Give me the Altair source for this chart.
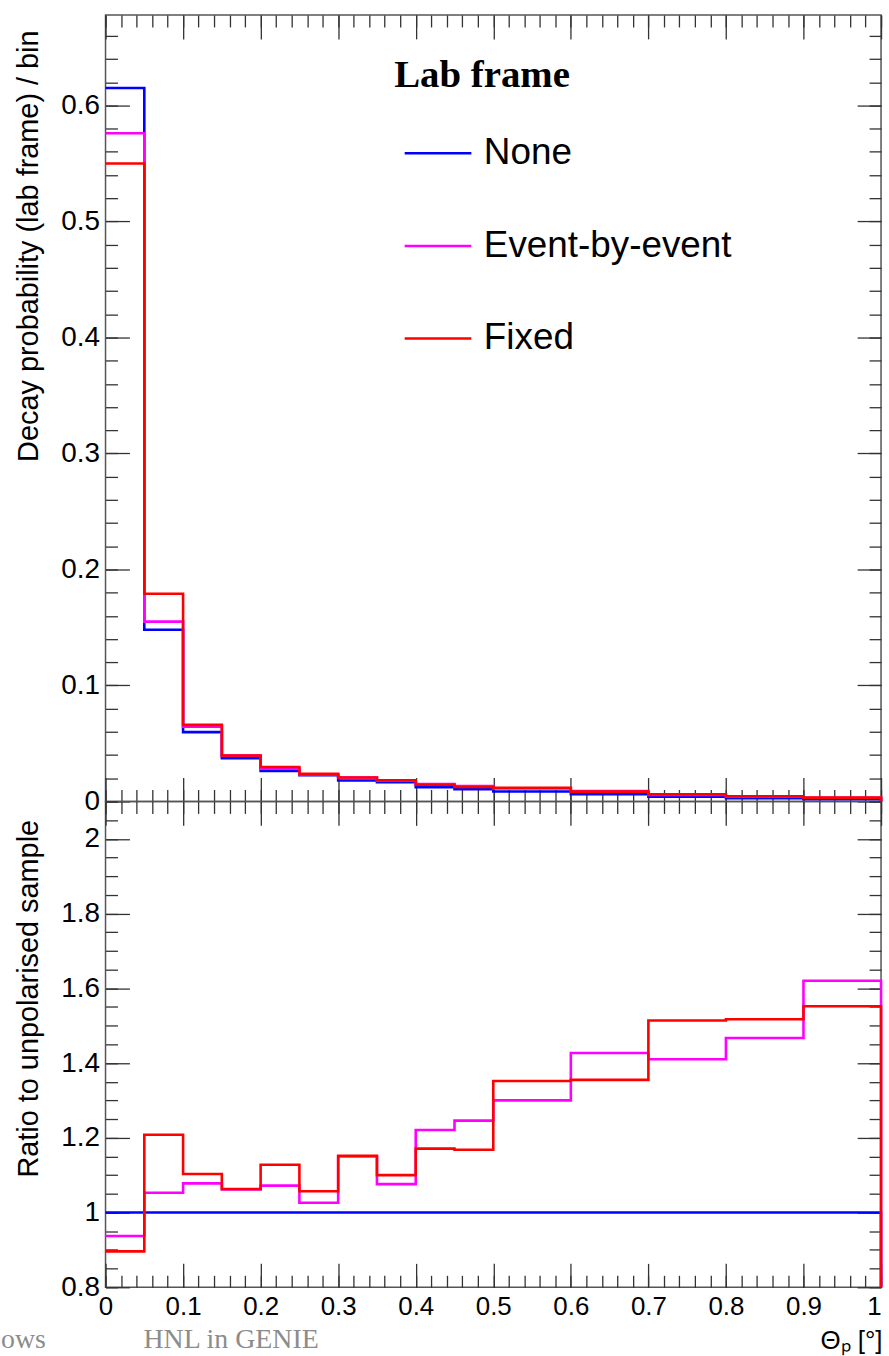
import altair as alt
import pandas as pd

# ---------------- data ----------------
series_names = ["None", "Event-by-event", "Fixed"]
series_colors = ["#0000ff", "#ff00ff", "#ff0000"]

bin_edges = [0.0, 0.05, 0.1, 0.15, 0.2, 0.25, 0.3, 0.35, 0.4, 0.45, 0.5, 0.6, 0.7, 0.8, 0.9, 1.0]

prob_none = [0.615, 0.148, 0.0598, 0.0372, 0.0263, 0.0226, 0.0180, 0.0166, 0.0123, 0.0106,
             0.0086, 0.0063, 0.0040, 0.0028, 0.0020]
prob_ebe = [0.576, 0.155, 0.0645, 0.0395, 0.0282, 0.0232, 0.0207, 0.0179, 0.0150, 0.0132,
            0.0112, 0.0090, 0.0056, 0.0041, 0.0032]
prob_fixed = [0.550, 0.179, 0.0660, 0.0396, 0.0297, 0.0239, 0.0207, 0.0183, 0.0144, 0.0124,
              0.0118, 0.0085, 0.0062, 0.0045, 0.0033]

ratio_none = [1.0, 1.0, 1.0, 1.0, 1.0, 1.0, 1.0, 1.0, 1.0, 1.0, 1.0, 1.0, 1.0, 1.0, 1.0]
ratio_ebe = [0.937, 1.053, 1.078, 1.062, 1.072, 1.026, 1.150, 1.076, 1.221, 1.246,
             1.300, 1.427, 1.410, 1.467, 1.620]
ratio_fixed = [0.896, 1.208, 1.103, 1.063, 1.128, 1.057, 1.152, 1.100, 1.171, 1.168,
               1.352, 1.355, 1.514, 1.517, 1.552]

# axis ticks / labels
x_major = [0, 0.1, 0.2, 0.3, 0.4, 0.5, 0.6, 0.7, 0.8, 0.9, 1]
x_minor = [round(i * 0.02, 2) for i in range(51)]
top_y_major = [0, 0.1, 0.2, 0.3, 0.4, 0.5, 0.6]
top_y_minor = [round(i * 0.02, 2) for i in range(34)]
ratio_y_major = [0.8, 1, 1.2, 1.4, 1.6, 1.8, 2]
ratio_y_minor = [round(0.8 + i * 0.05, 2) for i in range(27)]
top_domain = [0, 0.678]
ratio_domain = [0.8, 2.1]

top_title = "Decay probability (lab frame) / bin"
ratio_title = "Ratio to unpolarised sample"
x_title = "Θₚ [°]"
legend_title = "Lab frame"
footer_text = "ows" + "\u00a0" * 14 + "HNL in GENIE"

# ---------------- layout constants ----------------
W = 779
H_TOP = 790
H_BOT = 488
FONT = "Liberation Sans"
TICK_COLOR = "#333333"
MAJ = 24
MIN = 12


def step_frame(values_list, floor):
    rows = []
    for name, values in zip(series_names, values_list):
        for i, v in enumerate(values):
            rows.append({"series": name, "x": bin_edges[i], "y": v, "idx": i})
        rows.append({"series": name, "x": bin_edges[-1], "y": values[-1], "idx": len(values)})
        rows.append({"series": name, "x": bin_edges[-1], "y": floor, "idx": len(values) + 1})
    return pd.DataFrame(rows)


def tick_axis(orient, offset, values, size):
    return alt.Axis(orient=orient, offset=offset, values=values, tickSize=size,
                    tickColor=TICK_COLOR, tickWidth=1.3, labels=False, domain=False,
                    grid=False, title=None)


def panel(df, domain, y_major, y_minor, y_title, title_y, h, bottom, legend):
    xs = alt.Scale(domain=[0, 1], nice=False, zero=False)
    ys = alt.Scale(domain=domain, nice=False, zero=False)
    base = alt.Chart(df)

    y_label_axis = alt.Axis(orient="left", values=y_major, format="~g", labelFont=FONT,
                            labelFontSize=28, labelColor="black", labelPadding=6,
                            labelFlush=False, labelOverlap=False, ticks=False, tickSize=0,
                            domain=False, grid=False, title=y_title, titleFont=FONT,
                            titleFontSize=29, titleFontWeight="normal", titleColor="black",
                            titleX=-68, titleY=title_y, titleAlign="right",
                            titleAngle=-90, titleBaseline="alphabetic")
    if bottom:
        x_label_axis = alt.Axis(orient="bottom", values=x_major, format="~g", labelFont=FONT,
                                labelFontSize=26, labelColor="black", labelPadding=6,
                                labelFlush=False, labelOverlap=False, ticks=False, tickSize=0,
                                labelAlign={"condition": {"test": "datum.value >= 1",
                                                          "value": "right"},
                                            "value": "center"},
                                domain=False, grid=False, title=x_title, titleFont=FONT,
                                titleFontSize=26, titleFontWeight="normal", titleColor="black",
                                titleX=W + 1, titleY=62, titleAlign="right",
                                titleBaseline="alphabetic")
    else:
        x_label_axis = alt.Axis(orient="bottom", labels=False, ticks=False, domain=False,
                                grid=False, title=None)

    layers = []
    for k, name in enumerate(series_names):
        if k == 0:
            xa, ya = x_label_axis, y_label_axis
        else:
            xa, ya = None, None
        mark = base.transform_filter(alt.datum.series == name).mark_line(
            interpolate="step-after", strokeWidth=2.6,
            **({} if legend is not None else {"color": series_colors[k]}))
        enc = dict(
            x=alt.X("x:Q", scale=xs, axis=xa),
            y=alt.Y("y:Q", scale=ys, axis=ya),
            order=alt.Order("idx:Q"),
        )
        if legend is not None:
            enc["color"] = alt.Color("series:N",
                                     scale=alt.Scale(domain=series_names, range=series_colors),
                                     legend=legend)
        layers.append(mark.encode(**enc))

    # inward ticks on all four sides (major + minor)
    for (xo, yo) in [("top", "right"), ("bottom", "left")]:
        for vals_x, vals_y, size in [(x_major, y_major, MAJ), (x_minor, y_minor, MIN)]:
            layers.append(base.mark_point(opacity=0, size=1).encode(
                x=alt.X("x:Q", scale=xs, axis=tick_axis(xo, -h, vals_x, size)),
                y=alt.Y("y:Q", scale=ys, axis=tick_axis(yo, -W, vals_y, size)),
            ))

    if bottom:
        layers.append(alt.Chart(pd.DataFrame({"t": [footer_text]})).mark_text(
            align="left", baseline="alphabetic", font="Liberation Serif", fontSize=28,
            color="#8c8c8c").encode(x=alt.value(-105), y=alt.value(h + 61), text="t:N"))

    return alt.layer(*layers).resolve_axis(x="independent", y="independent").properties(
        width=W, height=h)


legend = alt.Legend(orient="none", legendX=290, legendY=41, title=legend_title,
                    titleFont="Liberation Serif", titleFontSize=39, titleFontWeight="bold",
                    titleColor="black", titlePadding=24, labelFont=FONT, labelFontSize=37,
                    labelColor="black", labelLimit=500, symbolType="stroke", symbolSize=4489,
                    symbolStrokeWidth=2.5, symbolOffset=9, labelOffset=11, rowPadding=40,
                    padding=0)

top = panel(step_frame([prob_none, prob_ebe, prob_fixed], 0.0), top_domain,
            top_y_major, top_y_minor, top_title, 15, H_TOP, False, legend)
bot = panel(step_frame([ratio_none, ratio_ebe, ratio_fixed], 0.8), ratio_domain,
            ratio_y_major, ratio_y_minor, ratio_title, 18, H_BOT, True, None)

chart = alt.vconcat(top, bot, spacing=0, bounds="flush").resolve_scale(
    color="independent").properties(
    padding={"left": 0, "top": 10, "right": 2, "bottom": 0},
    background="white",
).configure_view(stroke="#555555", strokeWidth=1.5)

chart.save("out.html", embed_options={"renderer": "svg", "actions": False})
